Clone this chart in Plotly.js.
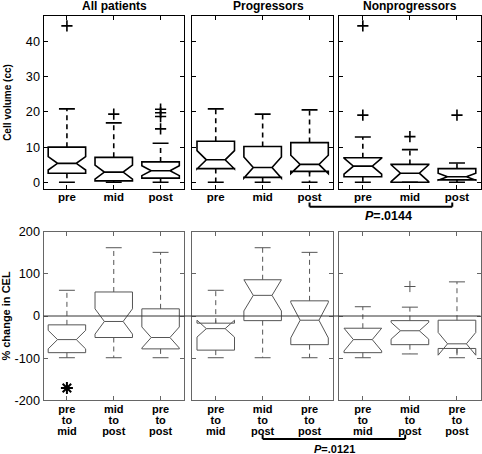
<!DOCTYPE html>
<html><head><meta charset="utf-8">
<script src="https://cdn.plot.ly/plotly-3.0.1.min.js"></script>
<style>html,body{margin:0;padding:0;background:#fff}</style>
</head><body><div id="chart" style="width:482px;height:454px"></div>
<script>
// ---------- data ----------
const groups  = ['All patients', 'Progressors', 'Nonprogressors'];
const periods = ['pre', 'mid', 'post'];
const changes = ['pre to mid', 'mid to post', 'pre to post'];

// Cell volume (cc) — rows: groups, columns: periods
const volLow      = [[0, 0, 0], [0, 0, 0], [0, 0, 0]];
const volQ1       = [[2.6, 0.4, 1.2], [3.9, 1.4, 3.1], [1.6, 0.0, 0.7]];
const volMedian   = [[5.4, 2.9, 3.3], [6.4, 4.2, 5.1], [4.6, 2.6, 1.6]];
const volQ3       = [[10.0, 7.1, 5.8], [11.7, 10.2, 11.3], [7.0, 5.1, 3.9]];
const volHigh     = [[20.9, 16.9, 11.1], [20.9, 19.4, 20.6], [12.9, 9.3, 5.5]];
const volNotch    = [[1.9, 2.0, 1.4], [2.6, 3.0, 2.6], [2.3, 2.4, 1.0]];
const volOutliers = [[[44.5], [19.4], [20.8, 19.8, 18.7, 15.2]], [[], [], []], [[44.5, 19.1], [13.0], [19.1]]];

// % change in CEL — rows: groups, columns: changes
const chgLow      = [[-99, -99, -99], [-99, -99, -99], [-99, -90, -99]];
const chgQ1       = [[-87, -51, -78], [-81, -11, -68], [-87, -68, -77]];
const chgMedian   = [[-56, -13, -51], [-30, 49, -10], [-56, -35, -66]];
const chgQ3       = [[-21, 57, 17], [-17, 86, 36], [-29, -11, -10]];
const chgHigh     = [[61, 162, 151], [61, 162, 151], [22, 21, 81]];
const chgNotch    = [[22, 30, 25], [20, 37, 42], [27, 20, 27]];
const chgOutliers = [[[], [], []], [[], [], []], [[], [70], []]];

const volTicks = [0, 10, 20, 30, 40];
const chgTicks = [-200, -100, 0, 100, 200];

// significance marks / comparisons
const chgStarGroup = 0, chgStarIndex = 0, chgStarValue = -171;
const volCompareGroups = [1, 2], volCompareIndex = 2, volCompareP = '.0144';
const chgCompareGroups = [1, 2], chgCompareIndex = 1, chgCompareP = '.0121';

// ---------- layout helpers ----------
const FONT = 'Liberation Sans, Arial, Helvetica, sans-serif';
const W = 482, H = 454;
const xDom = [[43.5 / W, 184 / W], [192.3 / W, 333 / W], [339.3 / W, 480.5 / W]];
const yDomTop = [1 - 189 / H, 1 - 16 / H];
const yDomBot = [1 - 400.3 / H, 1 - 231.7 / H];
const XR = [0.5, 3.5];
const VOLR = [-1.9, 47.3];
const CHGR = [-200, 200];

function ax(n) { return n === 1 ? '' : String(n); }
function xPaper(g, pos) { const d = xDom[g]; return d[0] + (pos - XR[0]) / (XR[1] - XR[0]) * (d[1] - d[0]); }

const traces = [];
const layout = {
  width: W, height: H, margin: {l: 0, r: 0, t: 0, b: 0},
  paper_bgcolor: '#fff', plot_bgcolor: 'rgba(0,0,0,0)',
  showlegend: false, boxmode: 'overlay', hovermode: false,
  font: {family: FONT, color: '#000'},
  shapes: [], annotations: []
};

function addPanel(n, g, cats, low, q1, med, q3, high, notch, outl, opts) {
  const xa = 'x' + ax(n), ya = 'y' + ax(n);
  const pos = cats.map((c, i) => i + 1);
  traces.push({
    type: 'box', xaxis: xa, yaxis: ya, x: pos,
    q1: q1, median: med, q3: q3, lowerfence: q1, upperfence: q3,
    notchspan: notch, notched: true, notchwidth: 0.25, width: 0.8,
    whiskerwidth: 0, boxpoints: false,
    line: {color: opts.color, width: opts.lw}, fillcolor: 'rgba(0,0,0,0)',
    hoverinfo: 'skip'
  });
  const wx = [], wy = [], cx = [], cy = [];
  pos.forEach((p, i) => {
    wx.push(p, p, null, p, p, null);
    wy.push(q3[i], high[i], null, q1[i], low[i], null);
    cx.push(p - 0.17, p + 0.17, null, p - 0.17, p + 0.17, null);
    cy.push(high[i], high[i], null, low[i], low[i], null);
  });
  traces.push({type: 'scatter', mode: 'lines', xaxis: xa, yaxis: ya, x: wx, y: wy,
    line: {color: opts.color, width: opts.lw, dash: '5px,4px'}, hoverinfo: 'skip'});
  traces.push({type: 'scatter', mode: 'lines', xaxis: xa, yaxis: ya, x: cx, y: cy,
    line: {color: opts.color, width: opts.lw}, hoverinfo: 'skip'});
  const ox = [], oy = [];
  outl.forEach((arr, i) => arr.forEach(v => { ox.push(pos[i]); oy.push(v); }));
  if (ox.length) traces.push({type: 'scatter', mode: 'markers', xaxis: xa, yaxis: ya, x: ox, y: oy,
    marker: {symbol: 'cross-thin-open', size: 8, color: opts.color, line: {color: opts.color, width: opts.lw}}, hoverinfo: 'skip'});

  layout['xaxis' + ax(n)] = {
    domain: xDom[g], anchor: ya, range: XR, tickmode: 'array', tickvals: pos,
    ticktext: opts.ticktext, tickfont: opts.xfont,
    showline: true, mirror: 'ticks', linecolor: opts.frame, linewidth: 1,
    ticks: 'inside', ticklen: 4, tickwidth: 1, tickcolor: opts.frame,
    showgrid: false, zeroline: false, fixedrange: true, automargin: false,
    ticklabelstandoff: opts.xstandoff
  };
  layout['yaxis' + ax(n)] = {
    domain: opts.ydom, anchor: xa, range: opts.yrange, tickmode: 'array', tickvals: opts.yticks,
    ticktext: opts.yticks.map(String), showticklabels: g === 0,
    tickfont: {family: FONT, size: 12.7, color: '#000'},
    showline: true, mirror: 'ticks', linecolor: opts.frame, linewidth: 1,
    ticks: 'inside', ticklen: 4, tickwidth: 1, tickcolor: opts.frame,
    showgrid: false, zeroline: false, fixedrange: true, automargin: false,
    title: g === 0 ? opts.ytitle : undefined
  };
}

groups.forEach((name, g) => {
  addPanel(g + 1, g, periods, volLow[g], volQ1[g], volMedian[g], volQ3[g], volHigh[g], volNotch[g], volOutliers[g], {
    color: '#000', lw: 1.6, frame: '#000', ydom: yDomTop, yrange: VOLR, yticks: volTicks,
    ticktext: periods, xfont: {family: FONT, size: 11.5, weight: 'bold', color: '#000'}, xstandoff: -3,
    ytitle: {text: 'Cell volume (cc)', font: {family: FONT, size: 10, weight: 'bold', color: '#000'}, standoff: 12}
  });
});
groups.forEach((name, g) => {
  addPanel(g + 4, g, changes, chgLow[g], chgQ1[g], chgMedian[g], chgQ3[g], chgHigh[g], chgNotch[g], chgOutliers[g], {
    color: '#555', lw: 1, frame: '#666', ydom: yDomBot, yrange: CHGR, yticks: chgTicks,
    ticktext: changes.map(s => s.split(' ').map(w => '<span style="font-size:11px">' + w + '</span>').join('<br>')),
    xfont: {family: FONT, size: 8.6, weight: 'bold', color: '#000'}, xstandoff: 1,
    ytitle: {text: '% change in CEL', font: {family: FONT, size: 11, weight: 'bold', color: '#000'}, standoff: 4}
  });
});

// significance asterisk, drawn as a marker
traces.push({
  type: 'scatter', mode: 'markers',
  xaxis: 'x' + ax(4 + chgStarGroup), yaxis: 'y' + ax(4 + chgStarGroup),
  x: [chgStarIndex + 1], y: [chgStarValue],
  marker: {symbol: 'asterisk-open', size: 10, color: '#000', line: {color: '#000', width: 2}},
  hoverinfo: 'skip'
});

// panel titles
const titleX = [114.3 / W, 268.7 / W, 410 / W];
groups.forEach((name, g) => layout.annotations.push({
  text: name, xref: 'paper', yref: 'paper', x: titleX[g], y: 1 - 6 / H,
  xanchor: 'center', yanchor: 'middle', showarrow: false,
  font: {family: FONT, size: 12, weight: 'bold', color: '#000'}
}));

// zero line across the lower row
layout.shapes.push({type: 'line', xref: 'paper', yref: 'y4', x0: xDom[0][0], x1: xDom[2][1], y0: 0, y1: 0,
  line: {color: '#333', width: 1}, layer: 'above'});

// comparison brackets
function bracket(groupsPair, idx, yLine, yTip, label, textX, textY, fsize) {
  const xa = xPaper(groupsPair[0], idx + 1);
  const xb = xPaper(groupsPair[1], idx + 1 - 0.1);
  const L = {color: '#000', width: 2};
  layout.shapes.push({type: 'line', xref: 'paper', yref: 'paper', x0: xa, x1: xb, y0: yLine, y1: yLine, line: L});
  layout.shapes.push({type: 'line', xref: 'paper', yref: 'paper', x0: xa, x1: xa, y0: yLine, y1: yTip, line: L});
  layout.shapes.push({type: 'line', xref: 'paper', yref: 'paper', x0: xb, x1: xb, y0: yLine, y1: yTip, line: L});
  layout.annotations.push({text: '<i>P</i>=' + label, xref: 'paper', yref: 'paper', x: textX, y: textY,
    xanchor: 'center', yanchor: 'middle', showarrow: false,
    font: {family: FONT, size: fsize, weight: 'bold', color: '#000'}});
}
bracket(volCompareGroups, volCompareIndex, 1 - 206.7 / H, 1 - 202.5 / H, volCompareP, 388.7 / W, 1 - 216 / H, 12.5);
bracket(chgCompareGroups, chgCompareIndex, 1 - 439 / H, 1 - 434.5 / H, chgCompareP, 334.5 / W, 1 - 448.5 / H, 11);

Plotly.newPlot('chart', traces, layout, {staticPlot: true, displayModeBar: false});
</script></body></html>
